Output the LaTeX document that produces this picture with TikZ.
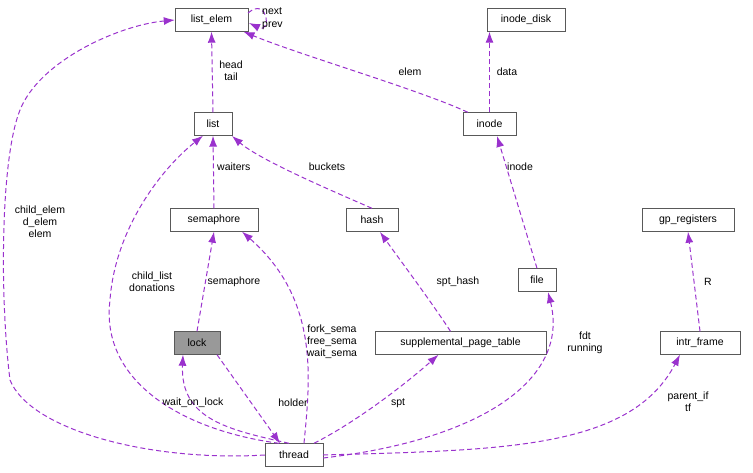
\documentclass[tikz,border=0pt]{standalone}
\usepackage{fontspec}
\setmainfont{Liberation Sans}
\usetikzlibrary{arrows.meta}
\definecolor{ec}{HTML}{9A32CD}
\begin{document}
\begin{tikzpicture}[x=1pt,y=-1pt,
  box/.style={draw=black!65,fill=white,inner sep=0pt,minimum height=23pt,font=\fontsize{10.5}{12}\selectfont,anchor=center},
  edge/.style={ec,dashed,dash pattern=on 5pt off 3pt,line width=1pt,-{Latex[length=11pt,width=8pt]}},
  lbl/.style={font=\fontsize{10.5}{12}\selectfont,align=center,inner sep=0pt}]
\useasboundingbox (0,0) rectangle (753,473);
\node[box,minimum width=73pt] (le) at (211.5,20) {list\_elem};
\node[box,minimum width=78pt] (id) at (526,20) {inode\_disk};
\node[box,minimum width=38pt] (list) at (213,124) {list};
\node[box,minimum width=53pt] (inode) at (489.5,124) {inode};
\node[box,minimum width=88pt] (sem) at (214,220) {semaphore};
\node[box,minimum width=52pt] (hash) at (372,220) {hash};
\node[box,minimum width=92pt] (gp) at (688,220) {gp\_registers};
\node[box,minimum width=38pt] (file) at (537,280) {file};
\node[box,minimum width=46pt,fill=black!40] (lock) at (197,343) {lock};
\node[box,minimum width=171pt] (spt) at (460.5,343) {supplemental\_page\_table};
\node[box,minimum width=80pt] (intr) at (700,343) {intr\_frame};
\node[box,minimum width=58pt] (thread) at (294,455) {thread};

\coordinate (ls) at (248,13);
\coordinate (le2) at (249,23);
\draw[edge] (ls) .. controls (268,-4) and (272,34) .. (le2);
\node[lbl,anchor=west] at (262,11) {next};
\node[lbl,anchor=west] at (262,26) {prev};
\draw[edge] (list.north) -- (le.south);
\node[lbl] at (231,71) {head\\tail};
\draw[edge] ([xshift=5pt]inode.north west) .. controls (420,90) and (300,55) .. ([xshift=32pt]le.south);
\node[lbl] at (410,72) {elem};
\draw[edge] (inode.north) -- (id.south -| inode.north);
\node[lbl] at (507,72) {data};
\draw[edge] (sem.north) -- (list.south);
\node[lbl,anchor=west] at (217,167) {waiters};
\draw[edge] (hash.north) .. controls (330,190) and (260,160) .. (232,136);
\node[lbl] at (327,167) {buckets};
\draw[edge] (file.north) -- (497,136);
\node[lbl,anchor=west] at (507,167) {inode};
\draw[edge] (lock.north) -- (sem.south);
\node[lbl] at (234,282) {semaphore};
\draw[edge] ([xshift=-10pt]spt.north) .. controls (430,300) and (400,260) .. (380,232);
\node[lbl] at (458,282) {spt\_hash};
\draw[edge] (intr.north) -- (gp.south);
\node[lbl,anchor=west] at (704,282) {R};

\draw[edge] (thread.west) .. controls (150,462) and (30,430) .. (10,380) .. controls (0,300) and (0,160) .. (20,110) .. controls (40,60) and (120,25) .. (le.west);
\node[lbl] at (40,222) {child\_elem\\d\_elem\\elem};
\draw[edge] ([xshift=-15pt]thread.north) .. controls (180,430) and (100,380) .. (110,300) .. controls (115,230) and (160,170) .. ([xshift=-10pt]list.south);
\node[lbl] at (152,282) {child\_list\\donations};
\draw[edge] ([xshift=10pt]thread.north) .. controls (310,380) and (320,300) .. ([xshift=28pt]sem.south);
\node[lbl] at (332,342) {fork\_sema\\free\_sema\\wait\_sema};
\draw[edge] ([xshift=-5pt]thread.north) .. controls (230,430) and (180,420) .. ([xshift=-14pt]lock.south);
\node[lbl] at (193,403) {wait\_on\_lock};
\draw[edge] ([xshift=20pt]lock.south) -- ([xshift=-14pt]thread.north);
\node[lbl] at (293,403) {holder};
\draw[edge] ([xshift=20pt]thread.north) .. controls (360,420) and (410,380) .. ([xshift=-22pt]spt.south);
\node[lbl] at (398,403) {spt};
\draw[edge] ([yshift=-3pt]thread.east) .. controls (480,440) and (570,380) .. (548,292);
\node[lbl] at (585,343) {fdt\\running};
\draw[edge] (thread.east) .. controls (500,450) and (630,450) .. ([xshift=-20pt]intr.south);
\node[lbl] at (688,402) {parent\_if\\tf};
\end{tikzpicture}
\end{document}
